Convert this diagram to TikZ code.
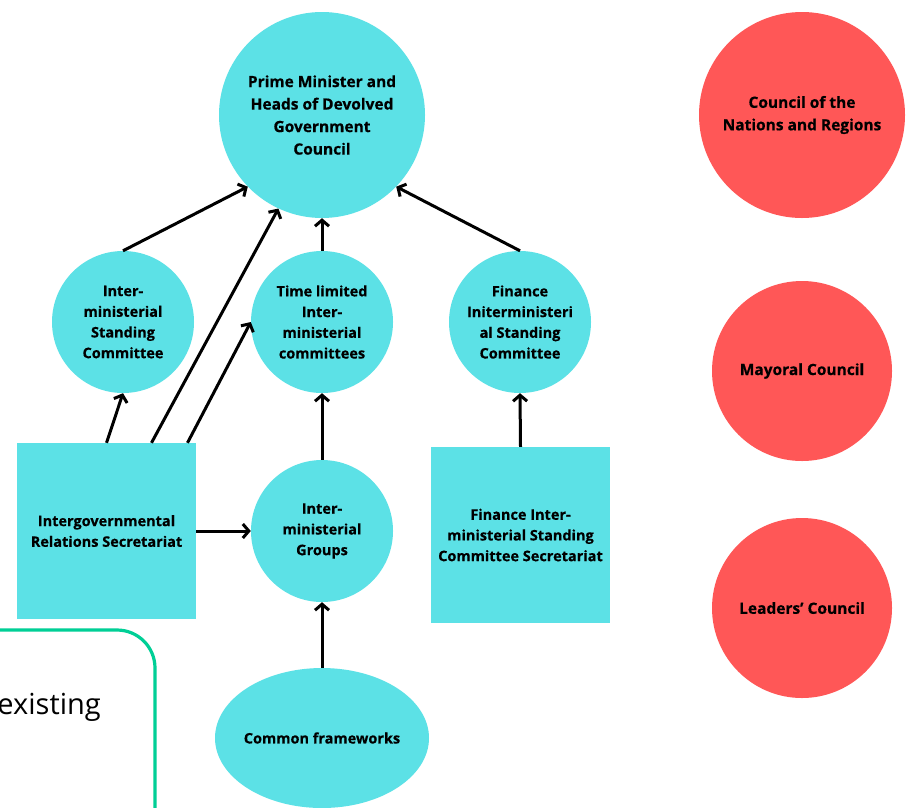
\documentclass[tikz,border=0pt]{standalone}
\usepackage{fontspec}
\setmainfont{Open Sans}
\newfontfamily\lblfont[BoldFeatures={FakeBold=0.5}]{Open Sans}
\usetikzlibrary{arrows.meta,shapes.geometric}
\definecolor{cy}{HTML}{5CE1E6}
\definecolor{rd}{HTML}{FF5757}
\definecolor{gr}{HTML}{00CF96}
\begin{document}
\begin{tikzpicture}[x=1pt,y=-1pt,
  lbl/.style={align=center,text=black,font=\lblfont\fontsize{14.5}{20.7}\selectfont\bfseries},
  cyc/.style={circle,fill=cy,inner sep=0pt,lbl},
  rdc/.style={circle,fill=rd,inner sep=0pt,lbl,font=\lblfont\fontsize{15.5}{22.5}\selectfont\bfseries},
  sqbox/.style={rectangle,fill=cy,inner sep=0pt,minimum width=179pt,minimum height=176pt,lbl},
  arr/.style={line width=3pt,-{Straight Barb[length=6pt,width=14pt]}}]
\useasboundingbox (0,0) rectangle (909,807);
\fill[white] (0,0) rectangle (909,807);
% green box
\draw[gr,line width=3.2pt,rounded corners=38pt] (-30,630) -- (155,630) -- (155,840);
\node[anchor=base east,inner sep=0pt,font=\fontsize{29}{32}\selectfont] (ex) at (101,714) {existing};
% nodes
\node[cyc,minimum size=206pt,font=\lblfont\fontsize{15.5}{22.5}\selectfont\bfseries] (pm) at (322,115) {Prime Minister and\\Heads of Devolved\\Government\\Council};
\node[cyc,minimum size=142pt] (isc) at (123,322) {Inter-\\ministerial\\Standing\\Committee};
\node[cyc,minimum size=142pt] (tl) at (322,322) {Time limited\\Inter-\\ministerial\\committees};
\node[cyc,minimum size=142pt] (fisc) at (520,322) {Finance\\Initerministeri\\al Standing\\Committee};
\node[cyc,minimum size=142pt] (img) at (322,531) {Inter-\\ministerial\\Groups};
\node[ellipse,fill=cy,inner xsep=-3pt,inner ysep=0pt,minimum width=214pt,minimum height=140pt,lbl] (cf) at (322,738) {Common frameworks};
\node[sqbox] (igr) at (106.5,531) {Intergovernmental\\Relations Secretariat};
\node[sqbox] (fsec) at (520.5,535) {Finance Inter-\\ministerial Standing\\Committee Secretariat};
\node[rdc,minimum size=206pt] (cnr) at (802,115) {Council of the\\Nations and Regions};
\node[rdc,minimum size=180pt] (mc) at (802,371) {Mayoral Council};
\node[rdc,minimum size=180pt] (lc) at (802,608) {Leaders’ Council};
% connectors
\draw[arr] (isc.north) -- (pm.224);
\draw[arr] (tl.north) -- (pm.south);
\draw[arr] (fisc.north) -- (pm.316);
\draw[arr] (igr.north) -- (isc.south);
\draw[arr] ([xshift=45pt]igr.north) -- (pm.245);
\draw[arr] ([xshift=81pt]igr.north) -- (tl.180);
\draw[arr] (img.north) -- (tl.south);
\draw[arr] (igr.east) -- (img.west);
\draw[arr] (cf.north) -- (img.south);
\draw[arr] (fsec.north) -- (fisc.south);
\end{tikzpicture}
\end{document}
